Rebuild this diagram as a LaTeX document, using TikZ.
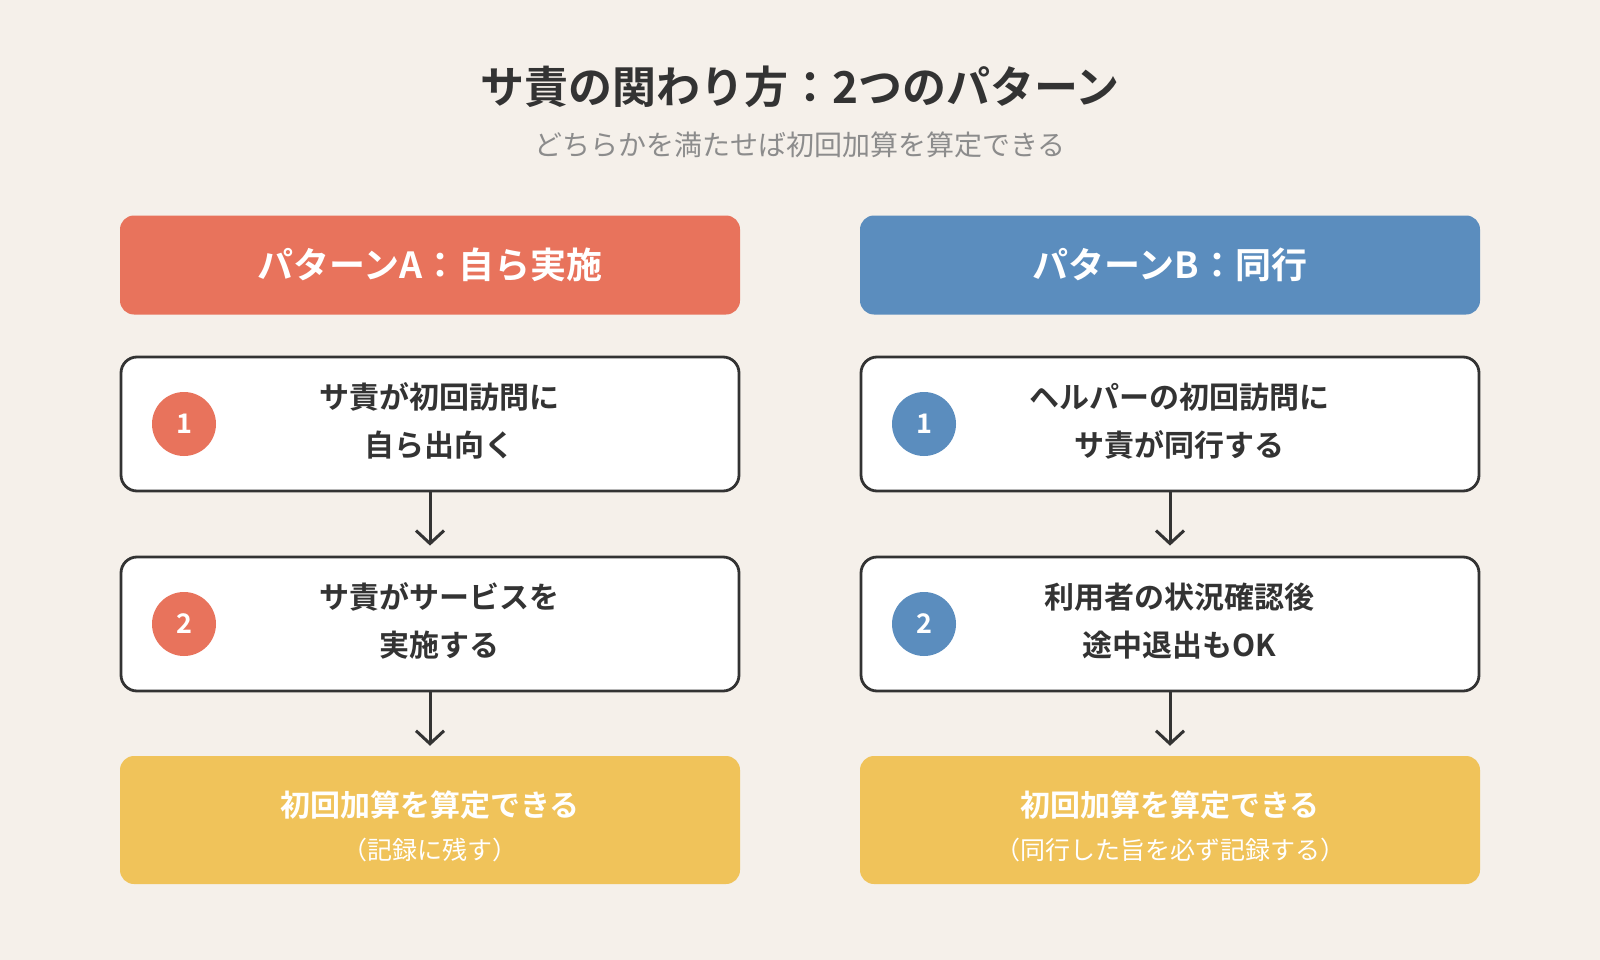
\documentclass[tikz,border=0pt]{standalone}
\usepackage{fontspec}
\setmainfont{Noto Sans CJK JP}[BoldFont={* Bold}]
\usetikzlibrary{arrows.meta}
\definecolor{bg}{HTML}{F5F0EA}
\definecolor{red}{HTML}{E8735C}
\definecolor{blue}{HTML}{5B8DBE}
\definecolor{yel}{HTML}{F0C35A}
\definecolor{ink}{HTML}{333333}
\definecolor{sub}{HTML}{8C8C8C}
\tikzset{
  header/.style={rounded corners=14pt, minimum width=620pt, minimum height=99pt, text=white, font=\fontsize{36}{40}\selectfont\bfseries},
  stepbox/.style={draw=ink, line width=2.8pt, fill=white, rounded corners=16pt, minimum width=618pt, minimum height=134pt},
  steptext/.style={text=ink, font=\fontsize{30}{48}\selectfont\bfseries, align=center},
  num/.style={circle, minimum size=64pt, inner sep=0pt, text=white, font=\fontsize{27}{27}\selectfont\bfseries},
  result/.style={rounded corners=14pt, fill=yel, minimum width=620pt, minimum height=128pt},
  flow/.style={draw=ink, line width=3pt, -{Straight Barb[length=13pt, width=28pt, line width=3pt]}}
}
\begin{document}
\begin{tikzpicture}[x=1pt,y=-1pt]
\fill[bg] (0,0) rectangle (1600,960);
\useasboundingbox (0,0) rectangle (1600,960);
\node[text=ink, font=\fontsize{44}{48}\selectfont\bfseries] (title) at (800,87) {サ責の関わり方：2つのパターン};
\node[text=sub, font=\fontsize{28}{32}\selectfont] (subtitle) at (800,145) {どちらかを満たせば初回加算を算定できる};

% Left column
\node[header, fill=red] (hA) at (430,265) {パターンA：自ら実施};
\node[stepbox] (a1) at (430,424) {};
\node[num, fill=red] (n1) at (184,424) {1};
\node[steptext] (t1) at (439,421) {サ責が初回訪問に\\自ら出向く};
\node[stepbox] (a2) at (430,624) {};
\node[num, fill=red] (n2) at (184,624) {2};
\node[steptext] (t2) at (439,621) {サ責がサービスを\\実施する};
\node[result] (ra) at (430,820) {};
\node[text=white, font=\fontsize{30}{34}\selectfont\bfseries] (ra1) at (430,805) {初回加算を算定できる};
\node[text=white, font=\fontsize{25}{28}\selectfont] (ra2) at (430,850) {（記録に残す）};
\draw[flow] (a1.south) -- ([yshift=10pt]a2.north);
\draw[flow] (a2.south) -- ([yshift=10pt]ra.north);

% Right column
\node[header, fill=blue] (hB) at (1170,265) {パターンB：同行};
\node[stepbox] (b1) at (1170,424) {};
\node[num, fill=blue] (m1) at (924,424) {1};
\node[steptext] (u1) at (1179,421) {ヘルパーの初回訪問に\\サ責が同行する};
\node[stepbox] (b2) at (1170,624) {};
\node[num, fill=blue] (m2) at (924,624) {2};
\node[steptext] (u2) at (1179,621) {利用者の状況確認後\\途中退出もOK};
\node[result] (rb) at (1170,820) {};
\node[text=white, font=\fontsize{30}{34}\selectfont\bfseries] (rb1) at (1170,805) {初回加算を算定できる};
\node[text=white, font=\fontsize{25}{28}\selectfont] (rb2) at (1170,850) {（同行した旨を必ず記録する）};
\draw[flow] (b1.south) -- ([yshift=10pt]b2.north);
\draw[flow] (b2.south) -- ([yshift=10pt]rb.north);
\end{tikzpicture}
\end{document}
